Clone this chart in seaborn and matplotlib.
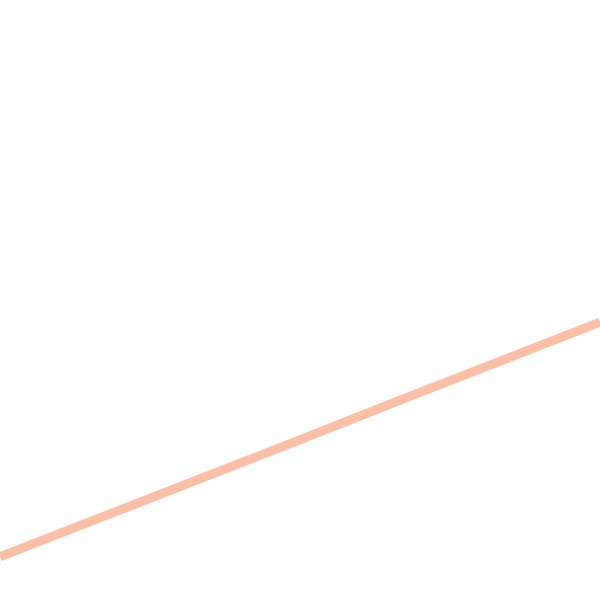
import matplotlib
matplotlib.use("Agg")
import matplotlib.pyplot as plt
import seaborn as sns
import pandas as pd

# Data (single rising line)
x_values = [0, 1, 2, 3, 4, 5, 6]
y_values = [0.72, 1.37, 2.02, 2.67, 3.33, 3.98, 4.63]

df = pd.DataFrame({"x": x_values, "y": y_values})

sns.set_theme(style="white")
fig = plt.figure(figsize=(6, 6), dpi=100)
ax = fig.add_axes([0, 0, 1, 1])

sns.lineplot(data=df, x="x", y="y", ax=ax, color="#FCBFA8", linewidth=6.5,
             solid_capstyle="butt")

ax.set_xlim(0, 6)
ax.set_ylim(0, 10)
ax.set_axis_off()

fig.savefig("out.png", dpi=100, facecolor="white")
